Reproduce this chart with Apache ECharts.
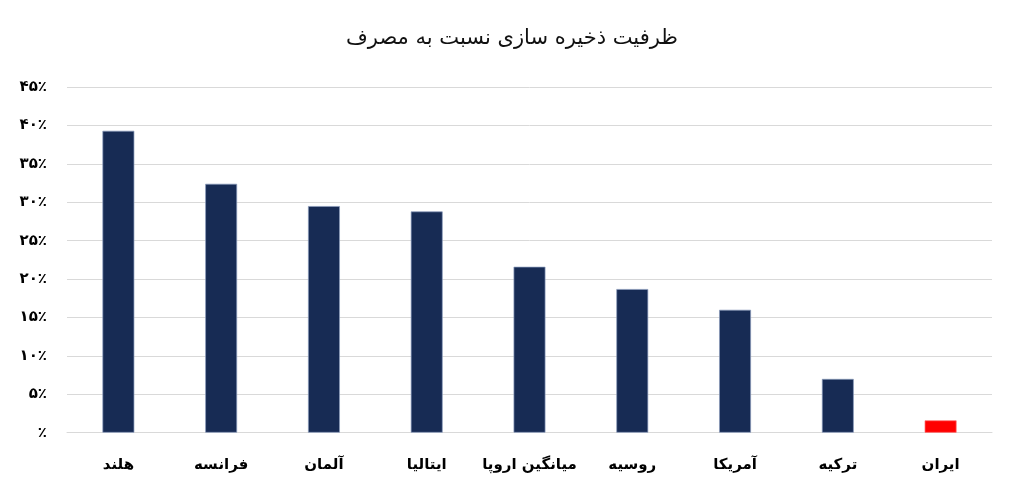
<!DOCTYPE html>
<html>
<head>
<meta charset="utf-8">
<script src="https://cdn.jsdelivr.net/npm/echarts@6/dist/echarts.min.js"></script>
<style>
html,body{margin:0;padding:0;background:#fff;}
#c{width:1024px;height:479px;}
</style>
</head>
<body>
<div id="c"></div>
<script>
const title = 'ظرفیت ذخیره سازی نسبت به مصرف';
const categories = ['هلند','فرانسه','آلمان','ایتالیا','میانگین اروپا','روسیه','آمریکا','ترکیه','ایران'];
const values = [39.3, 32.4, 29.5, 28.8, 21.6, 18.7, 16.0, 7.0, 1.6];
const barColors = ['#172b54','#172b54','#172b54','#172b54','#172b54','#172b54','#172b54','#172b54','#ff0000'];
const tickValues = [0,5,10,15,20,25,30,35,40,45];
const tickLabels = ['٪','۵٪','۱۰٪','۱۵٪','۲۰٪','۲۵٪','۳۰٪','۳۵٪','۴۰٪','۴۵٪'];

const chart = echarts.init(document.getElementById('c'), null, {renderer:'canvas'});
chart.setOption({
  backgroundColor:'#ffffff',
  animation:false,
  title:{
    text:title, left:'center', top:23,
    textStyle:{fontFamily:'DejaVu Sans', fontSize:21, fontWeight:'normal', color:'#111'}
  },
  grid:{left:67, right:32, top:87, bottom:46.3},
  xAxis:{
    type:'category', data:categories,
    axisLine:{show:true, lineStyle:{color:'#d9d9d9', width:1}},
    axisTick:{show:false},
    axisLabel:{interval:0, fontFamily:'DejaVu Sans', fontSize:15, fontWeight:'bold', color:'#000', margin:25}
  },
  yAxis:{
    type:'value', min:0, max:45, interval:5,
    axisLine:{show:false}, axisTick:{show:false},
    splitLine:{lineStyle:{color:'#d9d9d9', width:1}},
    axisLabel:{
      fontFamily:'DejaVu Sans', fontSize:15, fontWeight:'bold', color:'#000', margin:20,
      formatter:function(v){ const i = tickValues.indexOf(Math.round(v)); return i>=0 ? tickLabels[i] : ''; }
    }
  },
  series:[{
    type:'bar',
    data: values.map((v,i)=>({value:v, itemStyle:{color:barColors[i], borderColor: i===8 ? '#ff6666' : '#8a9bbb', borderWidth:0.7}})),
    barWidth:'31%'
  }]
});
</script>
</body>
</html>
